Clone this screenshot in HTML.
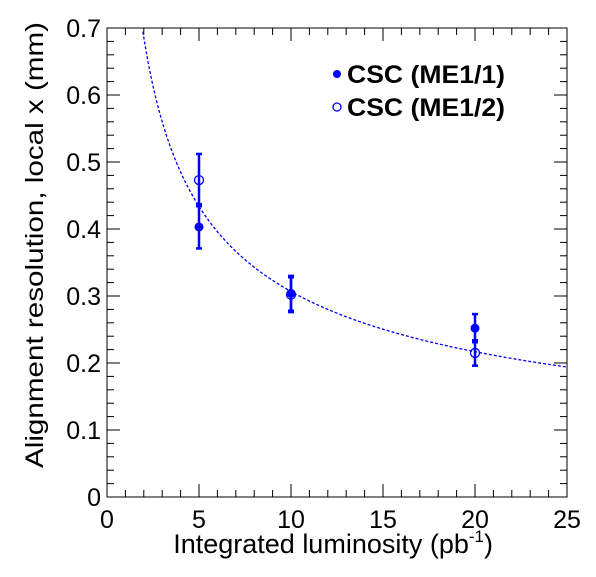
<!DOCTYPE html>
<html><head><meta charset="utf-8"><style>
body{margin:0;background:#fff}
svg text{font-family:"Liberation Sans",Arial,sans-serif}
</style></head><body>
<svg id="c" width="596" height="572" xmlns="http://www.w3.org/2000/svg"></svg>
<script>
const lumi = [5, 10, 20];
const me11 = [0.403, 0.304, 0.252];
const me11ErrUp = [0.034, 0.026, 0.021];
const me11ErrDn = [0.032, 0.026, 0.021];
const me12 = [0.473, 0.302, 0.215];
const me12Err = [0.039, 0.026, 0.019];
const fitA = [0.97];
const xTicks = [0, 5, 10, 15, 20, 25];
const yTicks = [0, 0.1, 0.2, 0.3, 0.4, 0.5, 0.6, 0.7];

const L=107,R=567,T=28,B=497;
const X=v=>L+(v/25)*(R-L);
const Y=v=>B-(v/0.7)*(B-T);
const svg=document.getElementById('c');
const NS='http://www.w3.org/2000/svg';
function mk(t,a,p){const e=document.createElementNS(NS,t);for(const k in a)e.setAttribute(k,a[k]);(p||svg).appendChild(e);return e;}

const fr=mk('rect',{x:L,y:T,width:R-L,height:B-T,fill:'none',stroke:'#000','stroke-width':1});



for(let v=0;v<=25;v+=1){
  const maj=v%5===0, len=maj?13:7, x=X(v);
  mk('line',{x1:x,x2:x,y1:B,y2:B-len,stroke:'#000'});
  mk('line',{x1:x,x2:x,y1:T,y2:T+len,stroke:'#000'});
}
xTicks.forEach(v=>{
  const t=mk('text',{x:X(v),y:B+31,'font-size':25,'text-anchor':'middle'});
  t.textContent=v;
  
  
});
for(let i=0;i<=35;i++){
  const v=i*0.02, maj=i%5===0, len=maj?13:7, y=Y(v);
  mk('line',{x1:L,x2:L+len,y1:y,y2:y,stroke:'#000'});
  mk('line',{x1:R,x2:R-len,y1:y,y2:y,stroke:'#000'});
}
yTicks.forEach(v=>{
  const t=mk('text',{x:L-6,y:Y(v)+9,'font-size':25,'text-anchor':'end'});
  t.textContent=v===0?'0':v.toFixed(1);
  
  
});

const xt=mk('text',{x:493,y:553,'font-size':27,'text-anchor':'end'});
xt.innerHTML='Integrated luminosity (pb<tspan dy="-11" font-size="17">-1</tspan><tspan dy="11">)</tspan>';


const yt=mk('text',{x:0,y:0,'font-size':25,'text-anchor':'end',textLength:446,lengthAdjust:'spacingAndGlyphs',transform:'translate(43,22) rotate(-90)'});
yt.textContent='Alignment resolution, local x (mm)';



let d='';
for(let x=1.5;x<=25;x+=0.05){
  const y=fitA[0]/Math.sqrt(x);
  if(y>0.7)continue;
  d+=(d?'L':'M')+X(x).toFixed(2)+','+Y(y).toFixed(2);
}
const fc=mk('path',{d:d,fill:'none',stroke:'#0000ff','stroke-width':1.3,'stroke-dasharray':'3,2'});



function ebar(x,lo,hi,name){
  const g=mk('g',{stroke:'#0000ff','stroke-width':2.5});
  
  
  mk('line',{x1:X(x),x2:X(x),y1:Y(lo),y2:Y(hi)},g);
  mk('line',{x1:X(x)-3,x2:X(x)+3,y1:Y(lo),y2:Y(lo)},g);
  mk('line',{x1:X(x)-3,x2:X(x)+3,y1:Y(hi),y2:Y(hi)},g);
}
lumi.forEach((x,i)=>{
  ebar(x,me12[i]-me12Err[i],me12[i]+me12Err[i],'me12-error-bar');
  ebar(x,me11[i]-me11ErrDn[i],me11[i]+me11ErrUp[i],'me11-error-bar');
  const o=mk('circle',{cx:X(x),cy:Y(me12[i]),r:4.5,fill:'none',stroke:'#0000ff','stroke-width':1.3});
  
  
  const f=mk('circle',{cx:X(x),cy:Y(me11[i]),r:4.5,fill:'#0000ff'});
  
  
});

const lg=mk('g',{});


mk('circle',{cx:337,cy:74,r:4,fill:'#0000ff'},lg);
mk('circle',{cx:337,cy:107,r:4,fill:'none',stroke:'#0000ff','stroke-width':1.3},lg);
const l1=mk('text',{x:347,y:83,'font-size':25,'font-weight':'bold',textLength:158,lengthAdjust:'spacingAndGlyphs'},lg);
l1.textContent='CSC (ME1/1)';


const l2=mk('text',{x:347,y:116,'font-size':25,'font-weight':'bold',textLength:158,lengthAdjust:'spacingAndGlyphs'},lg);
l2.textContent='CSC (ME1/2)';


</script>
</body></html>
